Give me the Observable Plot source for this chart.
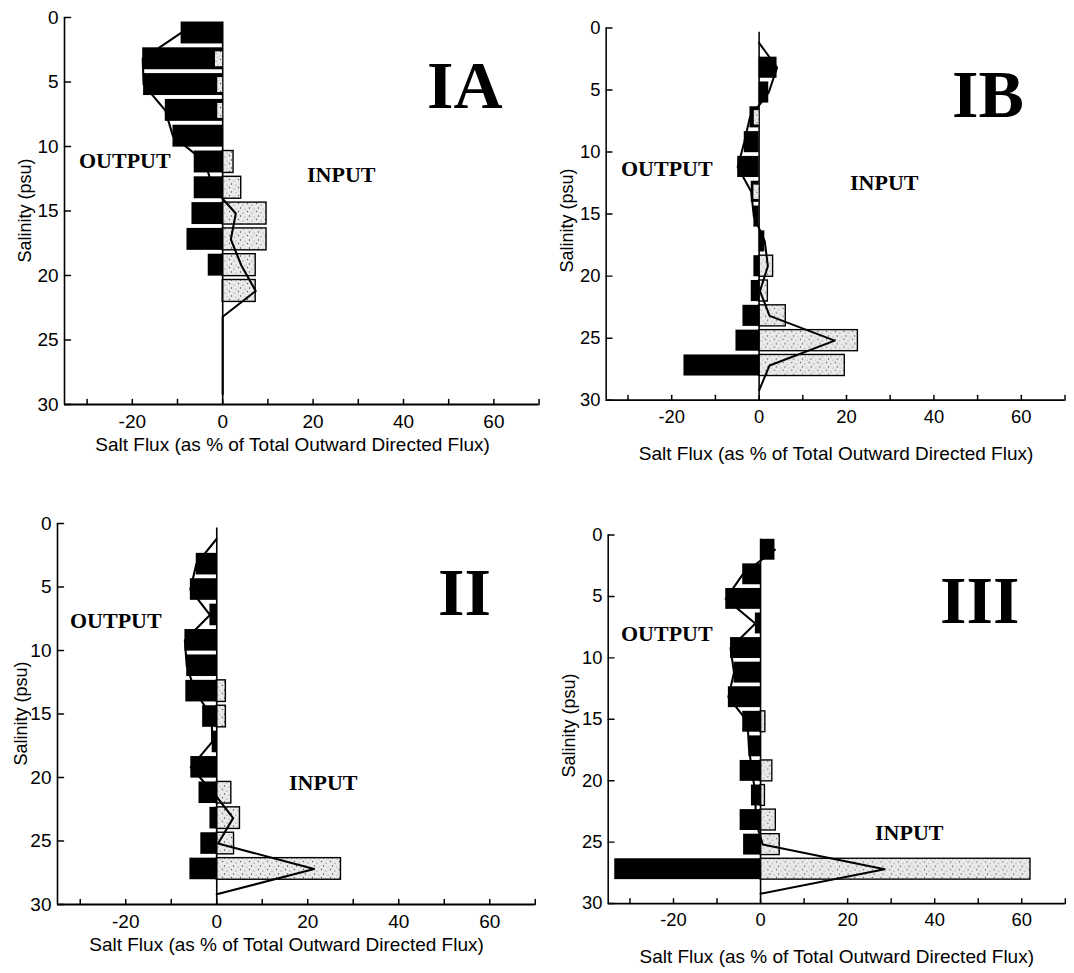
<!DOCTYPE html>
<html><head><meta charset="utf-8">
<script src="https://cdn.jsdelivr.net/npm/d3@7"></script>
<script src="https://cdn.jsdelivr.net/npm/@observablehq/plot@0.6"></script>
<style>
html,body{margin:0;padding:0;background:#fff;width:1074px;height:973px;overflow:hidden;position:relative;}
.panel{position:absolute;}
.panel svg{overflow:visible;}
#overlay{position:absolute;left:0;top:0;pointer-events:none;}
</style></head><body>
<svg width="0" height="0" style="position:absolute"><defs>
<pattern id="stipple" width="9" height="8" patternUnits="userSpaceOnUse">
<rect width="9" height="8" fill="#eaeaea"/>
<circle cx="1.5" cy="1.5" r="0.7" fill="#555"/>
<circle cx="6" cy="3" r="0.6" fill="#666"/>
<circle cx="3.5" cy="6" r="0.7" fill="#444"/>
<circle cx="8" cy="7" r="0.5" fill="#777"/>
</pattern></defs></svg>
<div id="root"></div>
<script>
// ---- data ----
const salinity = [1.2, 3.2, 5.2, 7.2, 9.2, 11.2, 13.2, 15.2, 17.2, 19.2, 21.2, 23.2, 25.2, 27.2, 29.2];

const outIA = [-9.2, -17.7, -17.5, -12.7, -11.0, -6.3, -6.3, -6.8, -7.9, -3.2, 0, 0, 0, 0, 0];
const inIA  = [0, 0, 0, 0, 0, 2.4, 4.1, 9.7, 9.7, 7.3, 7.3, 0, 0, 0, 0];
const netIA = [-9.2, -17.7, -17.5, -12.7, -11.0, -3.9, -2.2, 2.9, 1.8, 4.1, 7.3, 0, 0, 0, 0];
const stripIA = [0, -1.6, -1.1, -1.1, 0, 0, 0, 0, 0, 0, 0, 0, 0, 0, 0];

const outIB = [0, 4.1, 2.2, -2.1, -3.4, -4.9, -1.8, -1.2, 1.3, -1.2, -1.8, -3.7, -5.3, -17.2, 0];
const inIB  = [0, 0, 0, 0, 0, 0, 0, 0, 0, 3.2, 2.0, 6.1, 22.6, 19.6, 0];
const netIB = [0, 4.1, 2.2, -2.1, -3.4, -4.9, -1.8, -1.2, 1.3, 2.0, 0.2, 2.4, 17.3, 2.4, 0];
const stripIB = [0, 0, 0, -1.1, 0, 0, -1.2, 0, 0, 0, 0, 0, 0, 0, 0];

const outII = [0, -4.5, -5.8, -1.5, -7.0, -6.6, -6.8, -3.1, -1.0, -5.7, -3.9, -1.5, -3.5, -5.9, 0];
const inII  = [0, 0, 0, 0, 0, 0, 2.0, 2.0, 0, 0, 3.2, 5.1, 3.8, 27.3, 0];
const netII = [0, -4.5, -5.8, -1.5, -7.0, -6.6, -4.8, -1.1, -1.0, -5.7, -0.7, 3.6, 0.3, 21.4, 0];
const stripII = [0, 0, 0, 0, 0, 0, 0, 0, 0, 0, 0, 0, 0, 0, 0];

const outIII = [3.3, -4.1, -8.0, -1.2, -6.9, -6.1, -7.4, -4.1, -2.7, -4.7, -2.1, -4.7, -3.9, -33.5, 0];
const inIII  = [0, 0, 0, 0, 0, 0, 0, 1.1, 0, 2.7, 1.0, 3.5, 4.4, 62.0, 0];
const netIII = [3.3, -4.1, -8.0, -1.2, -6.9, -6.1, -7.4, -3.0, -2.7, -2.0, -1.1, -1.2, 0.5, 28.5, 0];
const stripIII = [0, 0, 0, 0, 0, 0, 0, 0, 0, 0, 0, 0, 0, 0, 0];

const xDomain = [-35, 70];
const yDomain = [0, 30];
const xTicks = [-30, -20, -10, 0, 10, 20, 30, 40, 50, 60, 70];
const xTickLabels = [-20, 0, 20, 40, 60];
const yTicks = [0, 5, 10, 15, 20, 25, 30];
const xTitle = "Salt Flux (as % of Total Outward Directed Flux)";
const yTitle = "Salinity (psu)";
const outputLabel = "OUTPUT";
const inputLabel = "INPUT";

// ---- layout (pixels) ----
const layout = [
  {name: "IA",  out: outIA,  inp: inIA,  net: netIA,  strip: stripIA,  x0: 222.5, ppu: 4.52, y0: 17,  y30: 404, letter: [427, 108], output: [79, 168], input: [307, 182], ytx: 25},
  {name: "IB",  out: outIB,  inp: inIB,  net: netIB,  strip: stripIB,  x0: 766,   ppu: 4.52, y0: 28,  y30: 413, letter: [952, 117], output: [621, 176], input: [850, 190], ytx: 567},
  {name: "II",  out: outII,  inp: inII,  net: netII,  strip: stripII,  x0: 216,   ppu: 4.55, y0: 523, y30: 904, letter: [438, 615], output: [70, 628],  input: [289, 790], ytx: 21},
  {name: "III", out: outIII, inp: inIII, net: netIII, strip: stripIII, x0: 767,   ppu: 4.50, y0: 535, y30: 916, letter: [940, 623], output: [621, 641], input: [875, 840], ytx: 569}
];

// inward tick shape (points "up" before rotation)
const tickShape = {draw(ctx, l) { ctx.moveTo(0, 0); ctx.lineTo(0, -l); }};

const half = 0.85;
const mL = 70, mR = 10, mT = 15, mB = 60;
const root = document.getElementById("root");

for (const p of layout) {
  const rows = salinity.map((s, i) => ({s, out: p.out[i], inp: p.inp[i], net: p.net[i], strip: p.strip[i]}));
  const left = p.x0 + xDomain[0] * p.ppu;
  const right = p.x0 + xDomain[1] * p.ppu;
  const width = (right - left) + mL + mR;
  const height = (p.y30 - p.y0) + mT + mB;
  const chart = Plot.plot({
    width, height,
    marginLeft: mL, marginRight: mR, marginTop: mT, marginBottom: mB,
    x: {domain: xDomain},
    y: {domain: yDomain, reverse: true},
    style: {fontFamily: "'Liberation Sans', Arial, sans-serif", fontSize: "19px", background: "transparent", color: "black"},
    marks: [
      Plot.rectX(rows.filter(d => d.inp > 0), {x1: 0, x2: "inp", y1: d => d.s - half, y2: d => d.s + half, fill: "url(#stipple)", stroke: "black", strokeWidth: 1.4}),
      Plot.ruleX([0], {y1: salinity[0] - half, y2: yDomain[1], stroke: "black", strokeWidth: 1.6}),
      Plot.line(rows, {x: "net", y: "s", stroke: "black", strokeWidth: 2.1, curve: "linear"}),
      Plot.rectX(rows.filter(d => d.out !== 0), {x1: 0, x2: "out", y1: d => d.s - half, y2: d => d.s + half, fill: "black"}),
      Plot.rectX(rows.filter(d => d.strip !== 0), {x1: 0, x2: "strip", y1: d => d.s - half, y2: d => d.s + half, insetTop: 4, insetBottom: 3, fill: "url(#stipple)"}),
      Plot.ruleY([yDomain[1]], {stroke: "black", strokeWidth: 1.8}),
      Plot.ruleX([xDomain[0]], {stroke: "black", strokeWidth: 1.6}),
      Plot.vector(xTicks, {x: d => d, y: yDomain[1], length: 5, rotate: 0, anchor: "start", shape: tickShape, stroke: "black", strokeWidth: 1.5}),
      Plot.vector(yTicks, {x: xDomain[0], y: d => d, length: 6, rotate: 90, anchor: "start", shape: tickShape, stroke: "black", strokeWidth: 1.5}),
      Plot.axisX({ticks: xTickLabels, tickSize: 0, tickPadding: 10, tickFormat: d => String(d), label: null}),
      Plot.axisY({ticks: yTicks, tickSize: 0, tickPadding: 6, tickFormat: d => String(d), label: null})
    ]
  });
  const div = document.createElement("div");
  div.className = "panel";
  div.style.left = (left - mL) + "px";
  div.style.top = (p.y0 - mT) + "px";
  div.appendChild(chart);
  root.appendChild(div);
}

// ---- text overlay ----
const NS = "http://www.w3.org/2000/svg";
const ov = document.createElementNS(NS, "svg");
ov.setAttribute("id", "overlay");
ov.setAttribute("width", 1074);
ov.setAttribute("height", 973);
function txt(str, x, y, attrs) {
  const t = document.createElementNS(NS, "text");
  t.textContent = str;
  t.setAttribute("x", x); t.setAttribute("y", y);
  for (const k in attrs) t.setAttribute(k, attrs[k]);
  ov.appendChild(t);
  return t;
}
const serif = "'Liberation Serif', 'Times New Roman', serif";
const sans = "'Liberation Sans', Arial, sans-serif";
for (const p of layout) {
  txt(p.name, p.letter[0], p.letter[1], {"font-family": serif, "font-weight": "bold", "font-size": 68});
  txt(outputLabel, p.output[0], p.output[1], {"font-family": serif, "font-weight": "bold", "font-size": 22});
  txt(inputLabel, p.input[0], p.input[1], {"font-family": serif, "font-weight": "bold", "font-size": 22});
  const cx = p.x0 + 15.5 * p.ppu;
  txt(xTitle, cx, p.y30 + 47, {"font-family": sans, "font-size": 19, "text-anchor": "middle"});
  const cy = (p.y0 + p.y30) / 2;
  txt(yTitle, p.ytx, cy, {"font-family": sans, "font-size": 18, "text-anchor": "middle", "dominant-baseline": "central", transform: `rotate(-90 ${p.ytx} ${cy})`});
}
document.body.appendChild(ov);
</script>
</body></html>
